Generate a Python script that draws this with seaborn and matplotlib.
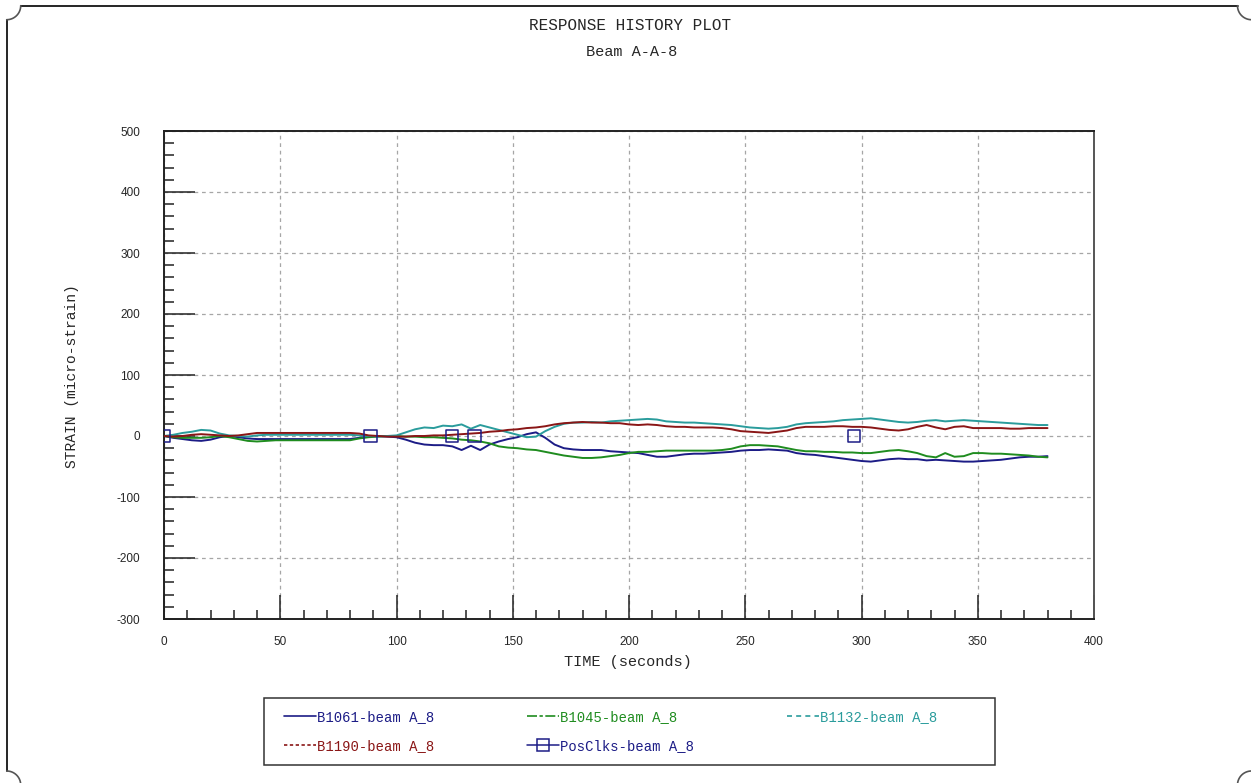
import numpy as np
import pandas as pd
import seaborn as sns
import matplotlib
matplotlib.use("Agg")
import matplotlib.pyplot as plt
from matplotlib.ticker import MultipleLocator
from matplotlib.lines import Line2D
from matplotlib.patches import Rectangle

# ---- data -------------------------------------------------------------
time_s = list(range(0, 381, 4))  # sample times (seconds)

b1061 = [0, -3, -5, -7, -8, -6, -2, 0, -2, -4,
         -5, -5, -5, -5, -5, -5, -5, -5, -5, -5,
         -5, -3, -1, 0, -1, -2, -6, -11, -14, -15,
         -15, -17, -23, -16, -23, -14, -9, -5, -2, 3,
         6, -3, -14, -20, -22, -23, -23, -23, -25, -26,
         -27, -28, -31, -34, -34, -32, -30, -29, -29, -28,
         -27, -26, -24, -23, -23, -22, -23, -24, -28, -30,
         -31, -33, -35, -37, -39, -41, -42, -40, -38, -37,
         -38, -38, -40, -39, -40, -41, -42, -42, -41, -40,
         -39, -37, -35, -34, -34, -33]

b1045 = [0, -2, -3, -3, -3, -2, 0, -2, -5, -8,
         -9, -8, -7, -7, -7, -7, -7, -7, -7, -7,
         -7, -4, -2, -1, 0, 0, -1, -1, -2, -2,
         -3, -4, -6, -7, -9, -12, -17, -19, -20, -22,
         -23, -26, -29, -32, -34, -36, -36, -35, -33, -31,
         -28, -26, -26, -25, -24, -24, -24, -24, -24, -24,
         -23, -21, -17, -15, -15, -16, -17, -20, -23, -25,
         -25, -26, -26, -27, -27, -28, -28, -26, -24, -23,
         -25, -28, -33, -35, -28, -34, -33, -28, -28, -29,
         -29, -30, -31, -32, -34, -35]

b1132 = [0, 2, 5, 7, 10, 9, 4, 1, 0, -1,
         1, 2, 2, 2, 2, 2, 2, 2, 2, 2,
         2, 1, 0, -1, 0, 1, 6, 11, 14, 13,
         17, 16, 19, 12, 18, 14, 10, 6, 2, -2,
         -1, 8, 15, 20, 22, 22, 23, 22, 24, 25,
         26, 27, 28, 27, 24, 23, 22, 22, 21, 20,
         19, 18, 16, 14, 13, 12, 13, 15, 19, 21,
         22, 23, 24, 26, 27, 28, 29, 27, 25, 23,
         22, 23, 25, 26, 24, 25, 26, 25, 24, 23,
         22, 21, 20, 19, 18, 18]

b1190 = [0, -1, 0, 2, 3, 2, 1, 0, 1, 3,
         5, 5, 5, 5, 5, 5, 5, 5, 5, 5,
         5, 4, 1, 0, -1, -1, -1, 0, 0, 1,
         1, 2, 3, 4, 5, 7, 8, 10, 11, 13,
         14, 16, 19, 21, 22, 23, 22, 22, 21, 21,
         19, 18, 19, 18, 16, 15, 15, 14, 14, 14,
         13, 11, 8, 7, 6, 5, 7, 9, 13, 15,
         15, 15, 16, 16, 15, 15, 14, 12, 10, 9,
         11, 15, 18, 14, 11, 15, 16, 13, 13, 13,
         13, 12, 12, 13, 13, 13]

posclk_time = [0, 88.8, 123.8, 133.6, 296.8]
posclk_value = [0, 0, 0, 0, 0]

series_names = ["B1061-beam A_8", "B1045-beam A_8", "B1132-beam A_8", "B1190-beam A_8"]
series_values = [b1061, b1045, b1132, b1190]
posclk_name = "PosClks-beam A_8"

x_ticks = [0, 50, 100, 150, 200, 250, 300, 350, 400]
y_ticks = [-300, -200, -100, 0, 100, 200, 300, 400, 500]

# ---- styling ------------------------------------------------------------
colors = {
    series_names[0]: "#1c1c86",
    series_names[1]: "#1f8c1f",
    series_names[2]: "#2a9c9c",
    series_names[3]: "#8a1616",
    posclk_name: "#1c1c86",
}
legend_dashes = {
    series_names[0]: "-",
    series_names[1]: (0, (6, 1.5, 2, 1.5)),
    series_names[2]: (0, (3, 2.5)),
    series_names[3]: (0, (2, 1.5)),
}

sns.set_style("white")
plt.rcParams["font.family"] = ["Liberation Mono", "DejaVu Sans"]
plt.rcParams["axes.unicode_minus"] = False

W, H = 1251, 783
fig = plt.figure(figsize=(W / 100, H / 100), dpi=100)

# page border with notched corners
deco = fig.add_axes([0, 0, 1, 1], zorder=-1)
deco.set_xlim(0, W)
deco.set_ylim(H, 0)
deco.axis("off")
r = 14
x0, y0, x1, y1 = 6.7, 5.7, 1251.5, 785.0
deco.plot([x0 + r, x1 - r], [y0, y0], color="black", lw=1.2)
deco.plot([x0, x0], [y0 + r, y1 - r], color="black", lw=1.2)
th = np.linspace(0, np.pi / 2, 30)
for cx, cy, sx, sy in [(x0, y0, 1, 1), (x1, y0, -1, 1), (x0, y1, 1, -1), (x1, y1, -1, -1)]:
    deco.plot(cx + sx * r * np.cos(th), cy + sy * r * np.sin(th), color="#555555", lw=1.2)
# legend frame
deco.add_patch(Rectangle((264, 698), 995 - 264, 765 - 698, fill=False,
                         edgecolor="#333333", lw=1.1))

ax = fig.add_axes([164 / W, 1 - 619 / H, (1094 - 164) / W, (619 - 131) / H])

df = pd.DataFrame({
    "time": np.tile(time_s, len(series_names)),
    "strain": np.concatenate(series_values),
    "series": np.repeat(series_names, len(time_s)),
})
sns.lineplot(data=df, x="time", y="strain", hue="series", hue_order=series_names,
             palette={n: colors[n] for n in series_names}, linewidth=1.4,
             legend=False, ax=ax, zorder=3)
sns.scatterplot(x=posclk_time, y=posclk_value, marker="s", s=78, color="none",
                edgecolor=colors[posclk_name], linewidth=1.1, ax=ax, zorder=4)

ax.set_xlim(0, 400)
ax.set_ylim(-300, 500)
ax.set_xticks(x_ticks)
ax.set_yticks(y_ticks)
ax.set_xticklabels([str(v) for v in x_ticks])
ax.set_yticklabels([str(v) for v in y_ticks])
ax.xaxis.set_minor_locator(MultipleLocator(10))
ax.yaxis.set_minor_locator(MultipleLocator(20))
ax.tick_params(axis="both", which="both", direction="in", color="#222222", width=1.1,
               bottom=True, left=True, top=False, right=False,
               labelfontfamily="Liberation Sans", labelsize=8.5)
ax.tick_params(axis="x", which="major", length=17, pad=12)
ax.tick_params(axis="x", which="minor", length=6.5)
ax.tick_params(axis="y", which="major", length=22, pad=17)
ax.tick_params(axis="y", which="minor", length=7.5)
ax.set_xlabel("")
ax.set_ylabel("")
ax.grid(True, which="major", color="#a6a6a6", linestyle=(0, (3, 3)), linewidth=0.9)
for side in ["left", "bottom", "top"]:
    ax.spines[side].set_color("#222222")
    ax.spines[side].set_linewidth(1.4)
ax.spines["right"].set_color("#555555")
ax.spines["right"].set_linewidth(1.4)

fig.text(630 / W, 1 - 26 / H, "RESPONSE HISTORY PLOT", ha="center", va="center", fontsize=11.5)
fig.text(632 / W, 1 - 52 / H, "Beam A-A-8", ha="center", va="center", fontsize=11)
fig.text(628 / W, 1 - 662 / H, "TIME (seconds)", ha="center", va="center", fontsize=11)
fig.text(72 / W, 1 - 376 / H, "STRAIN (micro-strain)", ha="center", va="center",
         rotation=90, fontsize=10.5)

# legend entries, filled row by row across three columns
handles = {n: Line2D([], [], color=colors[n], linestyle=legend_dashes[n], lw=1.2)
           for n in series_names}
handles[posclk_name] = Line2D([], [], color=colors[posclk_name], lw=1.1, marker="s",
                              markersize=8, markerfacecolor="none", markeredgewidth=1.1)
order = [series_names[0], series_names[3], series_names[1], posclk_name, series_names[2]]
leg = fig.legend([handles[n] for n in order], order, loc="upper left", ncol=3,
                 bbox_to_anchor=(284 / W, 1 - 710 / H), frameon=False, fontsize=10,
                 handlelength=2.3, handletextpad=0.1, borderaxespad=0, borderpad=0,
                 labelspacing=1.05, columnspacing=6.65)
for txt, n in zip(leg.get_texts(), order):
    txt.set_color(colors[n])

fig.savefig("out.png", dpi=100)
